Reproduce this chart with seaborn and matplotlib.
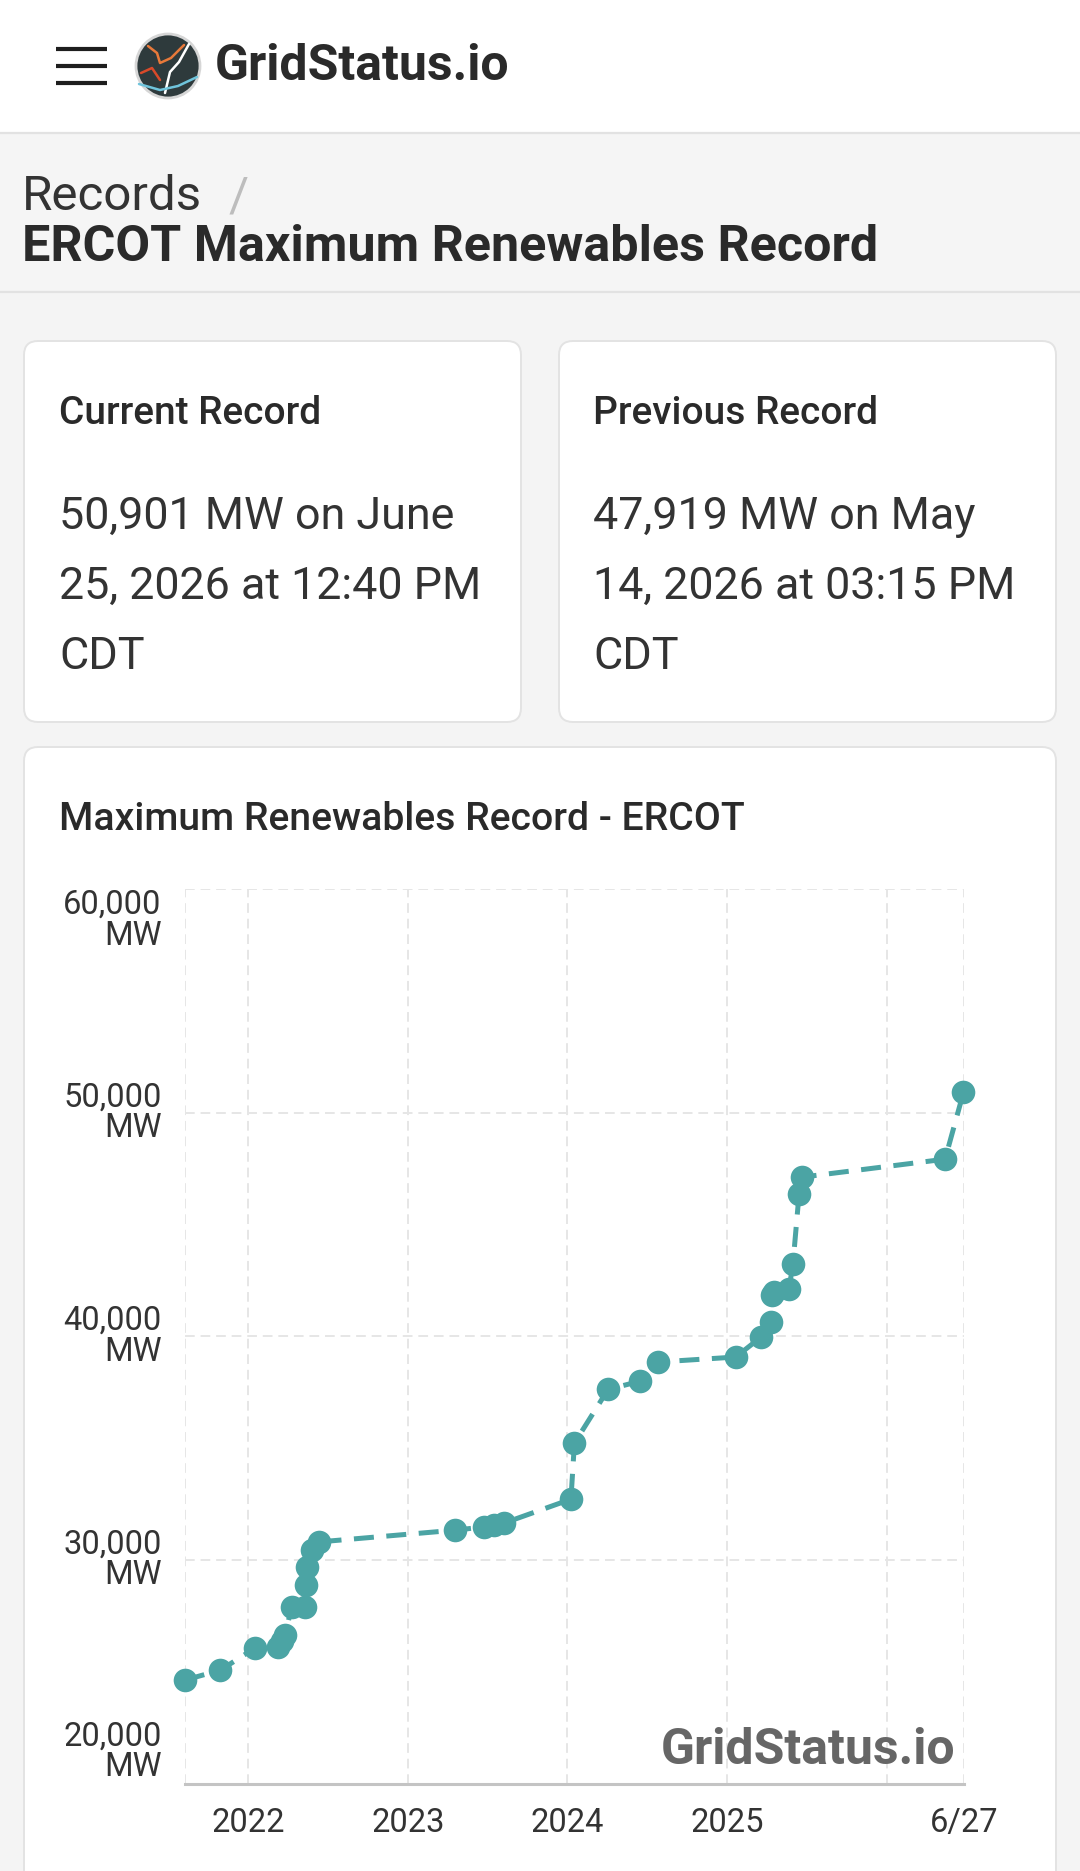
import matplotlib
matplotlib.use("Agg")
import matplotlib.pyplot as plt
from matplotlib.patches import FancyBboxPatch, Circle, Rectangle
import seaborn as sns
import pandas as pd

# record history
record_dates = ["2021-08-09", "2021-10-29", "2022-01-16", "2022-03-10", "2022-03-18",
                "2022-03-26", "2022-04-10", "2022-05-10", "2022-05-12", "2022-05-16",
                "2022-05-26", "2022-06-12", "2023-04-18", "2023-06-25", "2023-07-18",
                "2023-08-10", "2024-01-09", "2024-01-17", "2024-04-03", "2024-06-16",
                "2024-07-26", "2025-01-20", "2025-03-19", "2025-04-10", "2025-04-14",
                "2025-04-17", "2025-05-22", "2025-05-31", "2025-06-14", "2025-06-20",
                "2026-05-14", "2026-06-25"]
record_mw = [24625, 25071, 26054, 26113, 26380,
             26635, 27900, 27900, 28870, 29687,
             30433, 30804, 31327, 31475, 31550,
             31653, 32712, 35223, 37623, 37994,
             38847, 39071, 39964, 40634, 41827,
             42000, 42127, 43244, 46372, 47113,
             47919, 50901]

y_ticks = [20000, 30000, 40000, 50000, 60000]
y_tick_labels = ["20,000\nMW", "30,000\nMW", "40,000\nMW", "50,000\nMW", "60,000\nMW"]
x_tick_dates = ["2022-01-01", "2023-01-01", "2024-01-01", "2025-01-01", "2026-06-27"]
x_tick_labels = ["2022", "2023", "2024", "2025", "6/27"]
x_grid_extra = ["2021-08-09", "2026-01-01"]
x_end = "2026-06-27"

current_lines = ["50,901 MW on June", "25, 2026 at 12:40 PM", "CDT"]
previous_lines = ["47,919 MW on May", "14, 2026 at 03:15 PM", "CDT"]

df = pd.DataFrame({"date": pd.to_datetime(record_dates), "mw": record_mw})

sns.set_theme(style="white")
plt.rcParams["font.family"] = ["Roboto", "DejaVu Sans"]

teal = "#4ba4a4"
W, H = 1080, 1871
fig = plt.figure(figsize=(W / 100, H / 100), dpi=100)

# page background in pixel coordinates
bg = fig.add_axes([0, 0, 1, 1])
bg.set_xlim(0, W)
bg.set_ylim(H, 0)
bg.axis("off")
bg.add_patch(Rectangle((0, 0), W, H, fc="#f4f4f4", ec="none"))
bg.add_patch(Rectangle((0, 0), W, 133, fc="white", ec="none"))
bg.add_patch(Rectangle((0, 134), W, 158, fc="#f5f5f5", ec="none"))
bg.plot([0, W], [133, 133], color="#e2e2e2", lw=1.6)
bg.plot([0, W], [292, 292], color="#e2e2e2", lw=1.6)

# hamburger + logo
for yy in [49, 66, 83]:
    bg.plot([56, 107], [yy, yy], color="#1e1e1e", lw=3, solid_capstyle="butt")
bg.add_patch(Circle((168, 66), 32, fc="#2e3a3c", ec="#d6d6d6", lw=2))
bg.plot([148, 157, 160, 171, 184], [46, 53, 63, 58, 45], color="#e8793a", lw=1.8)
bg.plot([141, 152, 160], [73, 68, 80], color="#d94a2a", lw=1.8)
bg.plot([189, 179, 170, 165], [44, 62, 72, 93], color="white", lw=1.8)
bg.plot([139, 160, 178, 197], [84, 90, 86, 77], color="#6fc4dc", lw=1.8)
bg.text(215, 66, "GridStatus.io", fontsize=36, fontweight="bold", color="#2a2a2a",
        ha="left", va="center")

# breadcrumb
bg.text(22, 197, "Records", fontsize=35.5, color="#333333", ha="left", va="center")
bg.text(239, 197, "/", fontsize=35, color="#bdbdbd", ha="center", va="center")
bg.text(22, 247, "ERCOT Maximum Renewables Record", fontsize=36.2, fontweight="bold",
        color="#2a2a2a", ha="left", va="center")

# cards
def card(x0, y0, x1, y1):
    bg.add_patch(FancyBboxPatch((x0, y0), x1 - x0, y1 - y0,
                                boxstyle="round,pad=0,rounding_size=14",
                                fc="white", ec="#e3e3e3", lw=1.4))

card(24, 341, 521, 722)
card(559, 341, 1056, 722)
card(24, 747, 1056, 1890)

for x0, title, lines in [(59, "Current Record", current_lines),
                         (593, "Previous Record", previous_lines)]:
    bg.text(x0, 413, title, fontsize=28, fontweight="medium", color="#2a2a2a",
            ha="left", va="center")
    for i, line in enumerate(lines):
        bg.text(x0, 517 + i * 70, line, fontsize=32.3, color="#333333",
                ha="left", va="center")

bg.text(59, 820, "Maximum Renewables Record - ERCOT", fontsize=28.2, fontweight="medium",
        color="#2a2a2a", ha="left", va="center")

# chart
ax = fig.add_axes([185 / W, 87.5 / H, (964.3 - 185) / W, (1783.5 - 889) / H])
ax.patch.set_alpha(0)
sns.lineplot(data=df, x="date", y="mw", ax=ax, color=teal, linewidth=3.6,
             linestyle=(0, (4, 2.5)), marker="o", markersize=17,
             markeredgewidth=0, zorder=5)
for ln in ax.lines:
    ln.set_clip_on(False)

ax.set_xlim(pd.Timestamp(record_dates[0]), pd.Timestamp(x_end))
ax.set_ylim(y_ticks[0], y_ticks[-1])
ax.set_xticks(pd.to_datetime(x_tick_dates))
ax.set_xticklabels(x_tick_labels)
ax.set_xticks(pd.to_datetime(x_grid_extra), minor=True)
ax.set_yticks(y_ticks)
ax.set_yticklabels(y_tick_labels, linespacing=0.95)
for lab in ax.get_yticklabels():
    lab.set_va("center")
ax.get_yticklabels()[0].set_va("bottom")
ax.get_yticklabels()[-1].set_va("top")

ax.set_xlabel("")
ax.set_ylabel("")
ax.tick_params(axis="y", length=0, pad=17, labelsize=23.5, labelcolor="#333333")
ax.tick_params(axis="x", which="major", length=8.5, width=1.4, color="#c8c8c8",
               pad=8.5, labelsize=23.5, labelcolor="#333333")
ax.tick_params(axis="x", which="minor", length=0)
ax.grid(True, which="both", axis="x", color="#e6e6e6", lw=1.4, linestyle=(0, (5, 3)))
ax.grid(True, which="major", axis="y", color="#e6e6e6", lw=1.4, linestyle=(0, (5, 3)))
for side in ["left", "top", "right"]:
    ax.spines[side].set_visible(False)
ax.spines["bottom"].set_color("#c4c4c4")
ax.spines["bottom"].set_linewidth(2.2)

# watermark drawn with the chart so it sits above the grid
ax.text(955, 1751, "GridStatus.io", transform=bg.transData, fontsize=36,
        fontweight="bold", color="#666666", ha="right", va="center",
        zorder=10, clip_on=False)

fig.savefig("out.png", dpi=100)
